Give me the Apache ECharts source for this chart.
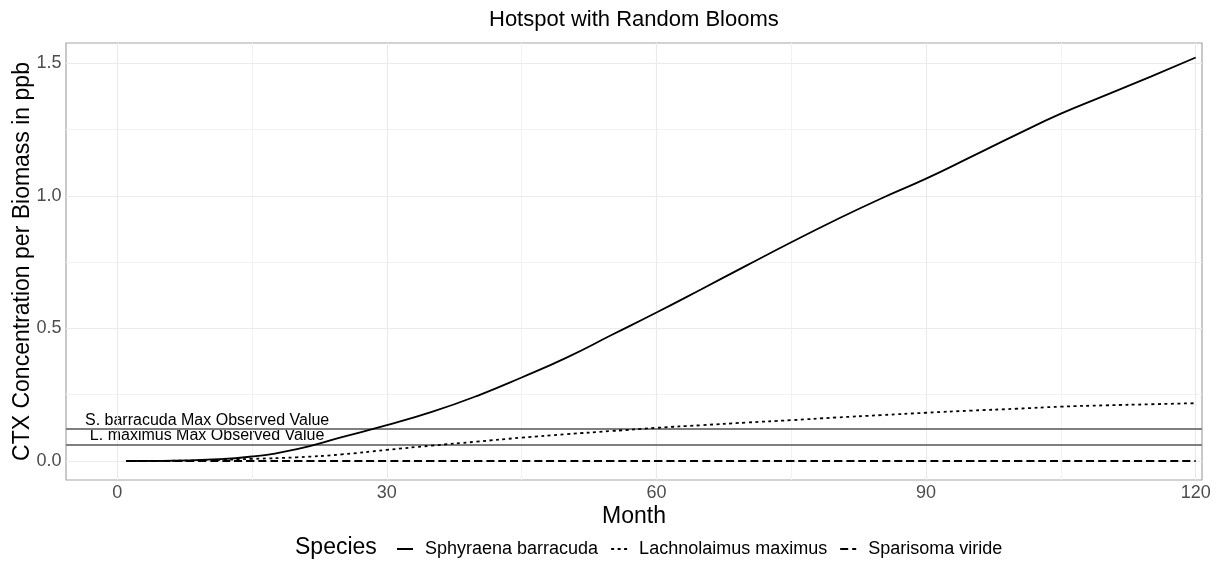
<!DOCTYPE html>
<html>
<head>
<meta charset="utf-8">
<script src="https://cdn.jsdelivr.net/npm/echarts@6/dist/echarts.min.js"></script>
<style>
html,body{margin:0;padding:0;background:#fff;}
#chart{width:1216px;height:563px;}
</style>
</head>
<body>
<div id="chart"></div>
<script>
const months = [1,5,10,15,20,25,30,35,40,45,50,55,60,65,70,75,80,85,90,95,100,105,110,115,120];
const barracuda = [0,0.0008,0.005,0.017,0.045,0.09,0.135,0.185,0.245,0.315,0.39,0.475,0.56,0.648,0.737,0.825,0.91,0.99,1.065,1.147,1.23,1.31,1.38,1.45,1.522];
const maximus = [0,0.0005,0.003,0.008,0.014,0.025,0.042,0.058,0.073,0.088,0.101,0.113,0.125,0.135,0.145,0.154,0.164,0.173,0.182,0.19,0.197,0.205,0.21,0.214,0.218];
const viride = [0,0,0,0,0,0,0,0,0,0,0,0,0,0,0,0,0,0,0,0,0,0,0,0,0];
const seriesNames = ['Sphyraena barracuda','Lachnolaimus maximus','Sparisoma viride'];
const xTicks = [0,30,60,90,120];
const xMinor = [15,45,75,105];
const yTicks = [0,0.5,1.0,1.5];
const yMinor = [0.25,0.75,1.25];
const refValues = [0.12, 0.063];
const refLabels = ['S. barracuda Max Observed Value','L. maximus Max Observed Value'];
const refLabelX = 10;

const FONT = 'Liberation Sans, Arial, Helvetica, sans-serif';
const chart = echarts.init(document.getElementById('chart'), null, {renderer:'canvas'});

function pairs(arr){ return months.map((m,i)=>[m, arr[i]]); }

const lineTypes = ['solid',[3,3.5],[8,4]];
const dataArrays = [barracuda, maximus, viride];

const gridLineData = []
  .concat(xMinor.map(v=>({xAxis:v, lineStyle:{color:'#F2F2F2', width:1, type:'solid'}})))
  .concat(yMinor.map(v=>({yAxis:v, lineStyle:{color:'#F2F2F2', width:1, type:'solid'}})))
  .concat(xTicks.map(v=>({xAxis:v, lineStyle:{color:'#EBEBEB', width:1.2, type:'solid'}})))
  .concat(yTicks.map(v=>({yAxis:v, lineStyle:{color:'#EBEBEB', width:1.2, type:'solid'}})));

const option = {
  animation:false,
  backgroundColor:'#ffffff',
  textStyle:{fontFamily:FONT},
  title:{
    text:'Hotspot with Random Blooms',
    left:489, top:9, padding:0,
    textStyle:{fontFamily:FONT, fontSize:22, fontWeight:'normal', color:'#000'}
  },
  grid:{
    left:66, top:43, width:1136, height:437,
    outerBoundsMode:'none', containLabel:false,
    show:true, borderColor:'#A6A6A6', borderWidth:1.2, backgroundColor:'transparent'
  },
  legend:{
    data:seriesNames,
    left:391, top:535,
    itemWidth:16, itemHeight:12, itemGap:12,
    itemStyle:{color:'rgba(0,0,0,0)', borderWidth:0, opacity:0},
    textStyle:{fontFamily:FONT, fontSize:18, color:'#000', padding:[0,0,0,7]}
  },
  graphic:[{
    type:'text', left:295, top:536,
    style:{text:'Species', font:'23px ' + FONT, fill:'#000'}
  }],
  xAxis:{
    type:'value', min:-5.7, max:120.7,
    name:'Month', nameLocation:'middle', nameGap:25, nameMoveOverlap:false,
    nameTextStyle:{fontFamily:FONT, fontSize:23, color:'#000', verticalAlign:'top'},
    axisLine:{show:false},
    splitLine:{show:false},
    axisTick:{show:true, length:4, customValues:xTicks, lineStyle:{color:'#333', width:1}},
    axisLabel:{customValues:xTicks, color:'#4D4D4D', fontSize:18, fontFamily:FONT, margin:4}
  },
  yAxis:{
    type:'value', min:-0.0717, max:1.5766,
    name:'CTX Concentration per Biomass in ppb', nameLocation:'middle', nameGap:32, nameMoveOverlap:false,
    nameTextStyle:{fontFamily:FONT, fontSize:23, color:'#000', verticalAlign:'bottom'},
    axisLine:{show:false},
    splitLine:{show:false},
    axisTick:{show:true, length:4, customValues:yTicks, lineStyle:{color:'#333', width:1}},
    axisLabel:{customValues:yTicks, color:'#4D4D4D', fontSize:18, fontFamily:FONT, margin:4.5,
      formatter:v=>Number(v).toFixed(1)}
  },
  series:[
    {
      name:'_grid', type:'line', data:[], z:1, silent:true,
      markLine:{silent:true, symbol:['none','none'], label:{show:false}, animation:false, data:gridLineData}
    },
    {
      name:'_ref', type:'line', data:[], z:3, silent:true,
      markLine:{silent:true, symbol:['none','none'], label:{show:false}, animation:false,
        lineStyle:{color:'#7F7F7F', width:1.8, type:'solid'},
        data:refValues.map(v=>({yAxis:v}))}
    },
    {
      name:'_labels', type:'scatter', z:4, silent:true, symbolSize:0,
      itemStyle:{opacity:1},
      data:refValues.map(v=>[refLabelX, v]),
      label:{show:true, position:'top', distance:1, fontSize:16, fontFamily:FONT, color:'#000', opacity:1,
        formatter:p=>refLabels[p.dataIndex]}
    }
  ].concat(seriesNames.map((n,i)=>({
    name:n, type:'line', z:5,
    data:pairs(dataArrays[i]),
    symbol:'none', smooth:true,
    lineStyle:{color:'#000', width:1.8, type:lineTypes[i]},
    itemStyle:{color:'#000'}
  })))
};
chart.setOption(option);
</script>
</body>
</html>
